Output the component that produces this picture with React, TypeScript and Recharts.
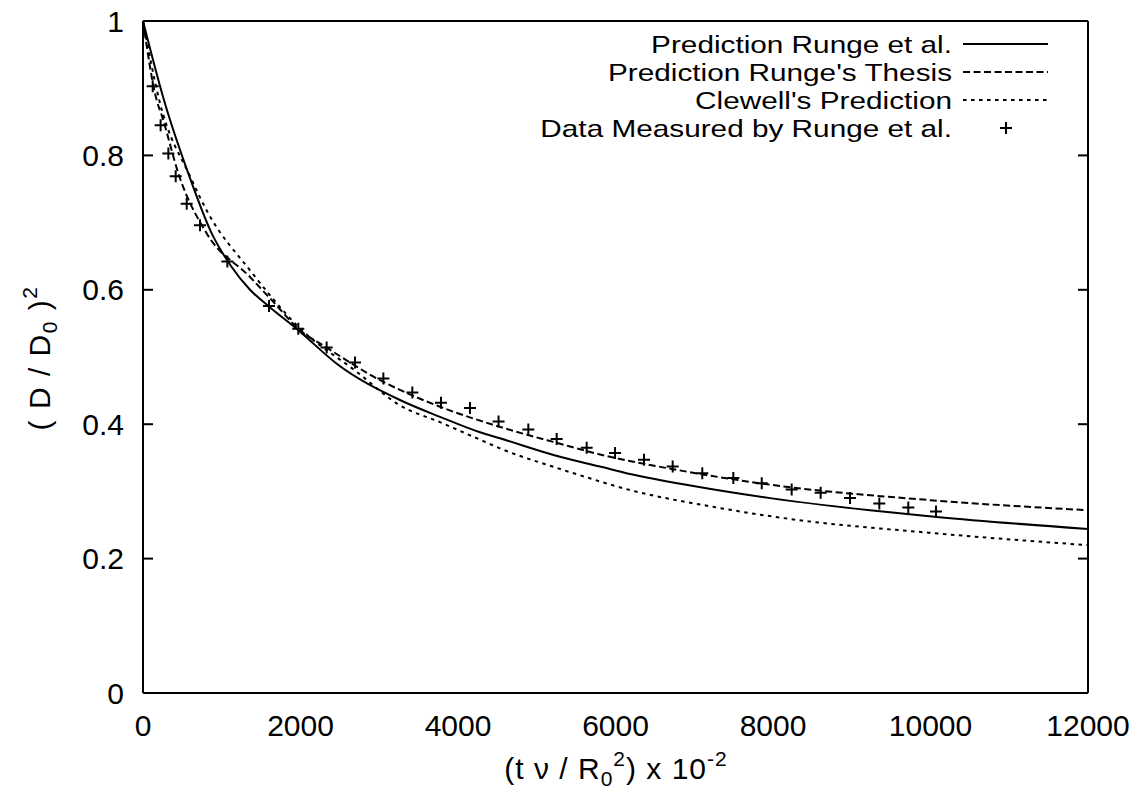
import { ComposedChart, Customized, Line, Scatter, XAxis, YAxis } from "recharts";

const FONT = "'Liberation Sans', Arial, Helvetica, sans-serif";

// axis ticks
const xTicks = [0, 2000, 4000, 6000, 8000, 10000, 12000];
const yTicks = [0, 0.2, 0.4, 0.6, 0.8, 1];

// Prediction Runge et al. (solid)
const rungeX = [0, 267, 588, 872, 1126, 1359, 1591, 1972, 2460, 3263, 3771, 4279, 4533, 5295, 5803, 6184, 6988, 7962, 9232, 10079, 12000];
const rungeY = [1.0, 0.882, 0.769, 0.684, 0.634, 0.6, 0.576, 0.54, 0.49, 0.436, 0.411, 0.388, 0.379, 0.3515, 0.337, 0.326, 0.308, 0.29, 0.272, 0.262, 0.244];

// Prediction Runge's Thesis (dashed)
const thesisX = [0, 174, 237, 461, 808, 1359, 1655, 1972, 2332, 3052, 3263, 3771, 4533, 5295, 5803, 6734, 7962, 9994, 12000];
const thesisY = [1.0, 0.882, 0.86, 0.769, 0.684, 0.619, 0.582, 0.542, 0.514, 0.463, 0.451, 0.426, 0.396, 0.371, 0.355, 0.333, 0.31, 0.287, 0.272];

// Clewell's Prediction (dotted)
const clewellX = [0, 207, 597, 809, 1359, 1972, 2713, 3263, 3771, 4279, 4533, 5253, 5549, 6184, 7241, 8089, 10079, 12000];
const clewellY = [1.0, 0.882, 0.769, 0.718, 0.629, 0.545, 0.478, 0.428, 0.403, 0.377, 0.364, 0.335, 0.324, 0.302, 0.277, 0.261, 0.2375, 0.22];

// Data measured by Runge et al. (+ markers)
const measX = [123, 224, 322, 415, 555, 724, 1071, 1600, 1972, 2332, 2692, 3052, 3420, 3784, 4152, 4515, 4893, 5253, 5634, 5994, 6362, 6726, 7102, 7496, 7857, 8237, 8605, 8978, 9350, 9718, 10070];
const measY = [0.903, 0.845, 0.803, 0.769, 0.728, 0.696, 0.642, 0.576, 0.542, 0.514, 0.492, 0.468, 0.447, 0.432, 0.424, 0.404, 0.392, 0.378, 0.365, 0.357, 0.347, 0.337, 0.327, 0.32, 0.312, 0.303, 0.298, 0.29, 0.282, 0.276, 0.27];

const legendLabels = ["Prediction Runge et al.", "Prediction Runge's Thesis", "Clewell's Prediction", "Data Measured by Runge et al."];

const toPoints = (xs: number[], ys: number[]) => xs.map((x, i) => ({ x, y: ys[i] }));

const rungeData = toPoints(rungeX, rungeY);
const thesisData = toPoints(thesisX, thesisY);
const clewellData = toPoints(clewellX, clewellY);
const measData = toPoints(measX, measY);

const tickFont = { fontSize: 30, fill: "#000", fontFamily: FONT };
const frame = { stroke: "#000", strokeWidth: 2 };
const noLabel = () => <g />;

function PlusMarker(props: any) {
  const { cx, cy } = props;
  if (cx == null || cy == null) return <g />;
  return <path d={`M${cx - 6},${cy}H${cx + 6}M${cx},${cy - 6}V${cy + 6}`} stroke="#000" strokeWidth={2} fill="none" />;
}

function Titles() {
  return (
    <g fontFamily={FONT} fill="#000">
      <text transform="translate(50,358) rotate(-90)" textAnchor="middle" fontSize={30} letterSpacing={1.5}>
        ( D / D<tspan fontSize={21} dy={7}>0</tspan>
        <tspan dy={-7}> )</tspan>
        <tspan fontSize={21} dy={-13}>2</tspan>
      </text>
      <text x={616} y={779} textAnchor="middle" fontSize={30} letterSpacing={1}>
        (t ν / R<tspan fontSize={21} dy={7}>0</tspan>
        <tspan fontSize={21} dy={-20}>2</tspan>
        <tspan dy={13}>) x 10</tspan>
        <tspan fontSize={21} dy={-13}>-2</tspan>
      </text>
    </g>
  );
}

function KeyBox() {
  const rowY = [44, 72, 100, 128];
  const dashes = [undefined, "7 3.5", "3.5 4.5"];
  return (
    <g fontFamily={FONT} fill="#000">
      <g transform="translate(952,0) scale(1.24,1)">
        {legendLabels.map((label, i) => (
          <text key={label} x={0} y={rowY[i]} dy="0.36em" textAnchor="end" fontSize={24}>
            {label}
          </text>
        ))}
      </g>
      {dashes.map((d, i) => (
        <line key={i} x1={963} x2={1048} y1={rowY[i]} y2={rowY[i]} stroke="#000" strokeWidth={2} strokeDasharray={d} />
      ))}
      <PlusMarker cx={1006} cy={rowY[3]} />
    </g>
  );
}

export default function App() {
  return (
    <div style={{ position: "absolute", left: 0, top: 0, background: "#fff", width: 1136, height: 793 }}>
      <ComposedChart width={1136} height={793} margin={{ top: 21, right: 48, bottom: 0, left: 0 }}>
        <XAxis
          xAxisId="x"
          type="number"
          dataKey="x"
          domain={[0, 12000]}
          ticks={xTicks}
          interval={0}
          allowDataOverflow
          height={100}
          tickLine={false}
          tickSize={10}
          tickMargin={12}
          axisLine={frame}
          tick={tickFont}
        />
        <XAxis xAxisId="xin" type="number" domain={[0, 12000]} ticks={xTicks} interval={0} allowDataOverflow mirror tick={noLabel} tickSize={10} tickLine={frame} axisLine={false} />
        <XAxis xAxisId="xtop" orientation="top" type="number" domain={[0, 12000]} ticks={xTicks} interval={0} allowDataOverflow mirror tick={noLabel} tickSize={10} tickLine={frame} axisLine={frame} />
        <YAxis
          yAxisId="y"
          type="number"
          domain={[0, 1]}
          ticks={yTicks}
          interval={0}
          allowDataOverflow
          width={143}
          tickLine={false}
          tickSize={8}
          tickMargin={11}
          axisLine={frame}
          tick={tickFont}
          tickFormatter={(v) => String(v)}
        />
        <YAxis yAxisId="yin" type="number" domain={[0, 1]} ticks={yTicks} interval={0} allowDataOverflow mirror tick={noLabel} tickSize={10} tickLine={frame} axisLine={false} />
        <YAxis yAxisId="yright" orientation="right" type="number" domain={[0, 1]} ticks={yTicks} interval={0} allowDataOverflow mirror tick={noLabel} tickSize={10} tickLine={frame} axisLine={frame} />

        <Line xAxisId="x" yAxisId="y" data={rungeData} dataKey="y" type="monotone" stroke="#000" strokeWidth={2} dot={false} isAnimationActive={false} />
        <Line xAxisId="x" yAxisId="y" data={thesisData} dataKey="y" type="monotone" stroke="#000" strokeWidth={2} strokeDasharray="7 3.5" dot={false} isAnimationActive={false} />
        <Line xAxisId="x" yAxisId="y" data={clewellData} dataKey="y" type="monotone" stroke="#000" strokeWidth={2} strokeDasharray="3.5 4.5" dot={false} isAnimationActive={false} />
        <Scatter xAxisId="x" yAxisId="y" data={measData} dataKey="y" shape={PlusMarker} isAnimationActive={false} />

        <Customized component={Titles} />
        <Customized component={KeyBox} />
      </ComposedChart>
    </div>
  );
}
